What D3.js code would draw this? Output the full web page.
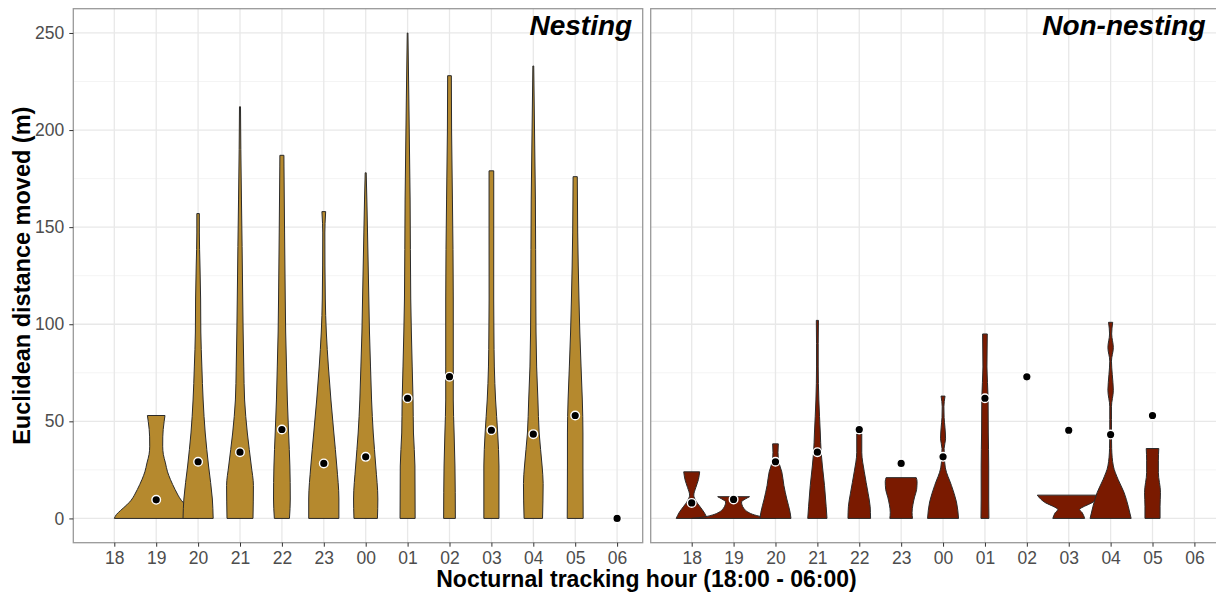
<!DOCTYPE html>
<html>
<head>
<meta charset="utf-8">
<script src="https://cdn.jsdelivr.net/npm/d3@7"></script>
<style>
  body { margin: 0; background: #fff; }
  text { font-family: "Liberation Sans", Arial, sans-serif; }
</style>
</head>
<body>
<svg id="chart" width="1216" height="593"></svg>
<script>
/* hours on the x axis */
const hours = ['18', '19', '20', '21', '22', '23', '00', '01', '02', '03', '04', '05', '06'];
const yTicks = [0, 50, 100, 150, 200, 250];
const yMinor = [25, 75, 125, 175, 225];

/* mean points per hour (null = no point) */
const nestMeans = [null, 9.6, 29.2, 34.1, 45.8, 28.3, 31.7, 61.9, 73, 45.4, 43.4, 53, 0];
const nonNestMeans = [8, 9.8, 29.2, 34.1, 45.8, 28.3, 31.7, 61.9, 72.9, 45.4, 43.2, 53, null];

/* violin outlines: [distance, half width in hour steps] */
const nestViolins = [
    null,
    [[0, 1.0], [2, 0.95], [4.1, 0.85], [7, 0.7], [9.3, 0.6], [12, 0.52], [14.9, 0.45], [20, 0.34], [24, 0.27], [28.6, 0.22], [33, 0.17], [37.2, 0.155], [42, 0.157], [45.8, 0.167], [50, 0.19], [53, 0.21]],
    [[0, 0.36], [10, 0.34], [27, 0.25], [44, 0.17], [61, 0.12], [78, 0.09], [96, 0.065], [113, 0.06], [130, 0.045], [147, 0.03], [157, 0.03]],
    [[0, 0.31], [17, 0.32], [27, 0.27], [44, 0.175], [61, 0.11], [78, 0.09], [96, 0.075], [113, 0.065], [140, 0.05], [164, 0.035], [190, 0.02], [212, 0.012]],
    [[0, 0.18], [10, 0.2], [27, 0.19], [44, 0.16], [61, 0.13], [78, 0.11], [96, 0.09], [113, 0.08], [147, 0.064], [181, 0.05], [187, 0.048]],
    [[0, 0.36], [10, 0.36], [27, 0.31], [44, 0.24], [61, 0.17], [78, 0.11], [96, 0.06], [113, 0.036], [147, 0.025], [152, 0.03], [158, 0.045]],
    [[0, 0.28], [10, 0.29], [27, 0.24], [44, 0.18], [61, 0.14], [78, 0.115], [96, 0.09], [113, 0.075], [147, 0.044], [164, 0.028], [178, 0.012]],
    [[0, 0.18], [27, 0.175], [44, 0.14], [61, 0.13], [78, 0.11], [96, 0.09], [113, 0.075], [164, 0.06], [216, 0.03], [250, 0.008]],
    [[0, 0.14], [27, 0.13], [44, 0.11], [61, 0.09], [78, 0.09], [96, 0.09], [113, 0.09], [164, 0.07], [199, 0.05], [228, 0.044]],
    [[0, 0.18], [27, 0.18], [44, 0.15], [61, 0.1], [78, 0.07], [96, 0.06], [113, 0.055], [147, 0.056], [179, 0.056]],
    [[0, 0.22], [18, 0.235], [27, 0.21], [44, 0.14], [61, 0.11], [78, 0.08], [96, 0.065], [113, 0.06], [164, 0.05], [199, 0.03], [233, 0.01]],
    [[0, 0.19], [27, 0.185], [44, 0.185], [61, 0.17], [78, 0.14], [96, 0.11], [113, 0.09], [147, 0.06], [176, 0.05]],
    null
];
const nonNestViolins = [
    [[0, 0.37], [3, 0.3], [6, 0.2], [9, 0.1], [12, 0.05], [16, 0.1], [20, 0.16], [24, 0.19]],
    [[0, 1.0], [0.8, 0.7], [1.8, 0.5], [3.3, 0.34], [5, 0.25], [7, 0.2], [8.5, 0.19], [10, 0.28], [11.2, 0.38]],
    [[0, 0.37], [3, 0.35], [10, 0.27], [17, 0.2], [24, 0.15], [29, 0.08], [34, 0.06], [38.4, 0.068]],
    [[0, 0.23], [6, 0.21], [17, 0.17], [27, 0.12], [34, 0.09], [44, 0.07], [61, 0.035], [78, 0.02], [90, 0.02], [102, 0.025]],
    [[0, 0.27], [6, 0.26], [13, 0.21], [24, 0.12], [34, 0.06], [43.5, 0.06]],
    [[0, 0.27], [3, 0.26], [7, 0.28], [11, 0.32], [15, 0.37], [19, 0.38], [21, 0.36]],
    [[0, 0.37], [8.5, 0.32], [17, 0.2], [26, 0.055], [32, 0.03], [36, 0.025], [41, 0.06], [47, 0.045], [52, 0.025], [57.5, 0.02], [63, 0.048]],
    [[0, 0.095], [10, 0.09], [27, 0.09], [44, 0.08], [62, 0.075], [78, 0.048], [95, 0.056]],
    null,
    [[0, 0.38], [3, 0.32], [4.6, 0.26], [6.3, 0.38], [8, 0.55], [9.8, 0.66], [12, 0.75]],
    [[0, 0.49], [6.3, 0.42], [13.4, 0.32], [20, 0.18], [27, 0.065], [36, 0.025], [43, 0.02], [51, 0.02], [57.5, 0.02], [66, 0.065], [74, 0.04], [81, 0.02], [88, 0.065], [95, 0.025], [101, 0.05]],
    [[0, 0.18], [6.3, 0.18], [13.4, 0.19], [23.7, 0.14], [30, 0.14], [36, 0.15]],
    null
];

/* panel boxes */
const plotTop = 8.7, plotBottom = 542.7;
const panels = [
    { title: 'Nesting', left: 73.3, right: 642.7, fill: '#b5892e', violins: nestViolins, means: nestMeans, yAxis: true },
    { title: 'Non-nesting', left: 650.7, right: 1220, fill: '#7a1a00', violins: nonNestViolins, means: nonNestMeans, yAxis: false }
];

let svg = d3.select('#chart');
let y = d3.scaleLinear().domain([-12.5, 262.5]).range([plotBottom, plotTop]);

panels.forEach(p => {
    let x = d3.scalePoint().domain(hours).range([p.left + 41, p.right - 25.6]);
    let step = x.step();
    let g = svg.append('g');

    /* grid */
    g.selectAll('.minor').data(yMinor).enter().append('line')
        .attr('x1', p.left).attr('x2', p.right)
        .attr('y1', d => y(d)).attr('y2', d => y(d))
        .attr('stroke', '#f0f0f0').attr('stroke-width', 0.8);
    g.selectAll('.major').data(yTicks).enter().append('line')
        .attr('x1', p.left).attr('x2', p.right)
        .attr('y1', d => y(d)).attr('y2', d => y(d))
        .attr('stroke', '#e8e8e8').attr('stroke-width', 1.3);
    g.selectAll('.vgrid').data(hours).enter().append('line')
        .attr('x1', d => x(d)).attr('x2', d => x(d))
        .attr('y1', plotTop).attr('y2', plotBottom)
        .attr('stroke', '#e8e8e8').attr('stroke-width', 1.3);

    /* violins */
    p.violins.forEach((prof, i) => {
        if (!prof) return;
        let cx = x(hours[i]);
        let pts = prof.slice().reverse();
        let area = d3.area()
            .y(d => y(d[0]))
            .x0(d => cx - d[1] * step)
            .x1(d => cx + d[1] * step)
            .curve(d3.curveMonotoneY);
        g.append('path')
            .attr('d', area(pts))
            .attr('fill', p.fill)
            .attr('stroke', '#2b2b2b')
            .attr('stroke-width', 1);
    });

    /* mean points */
    g.selectAll('.pt').data(p.means.map((m, i) => ({ h: hours[i], m })).filter(d => d.m !== null))
        .enter().append('circle')
        .attr('cx', d => x(d.h)).attr('cy', d => y(d.m))
        .attr('r', 4.3)
        .attr('fill', '#000')
        .attr('stroke', '#fff')
        .attr('stroke-width', 1.4);

    /* border */
    g.append('rect')
        .attr('x', p.left).attr('y', plotTop)
        .attr('width', p.right - p.left).attr('height', plotBottom - plotTop)
        .attr('fill', 'none').attr('stroke', '#999').attr('stroke-width', 1.3);

    /* x axis */
    let xAxis = g.append('g')
        .attr('transform', `translate(0, ${plotBottom})`)
        .call(d3.axisBottom(x).tickSize(4).tickPadding(5));
    xAxis.select('.domain').remove();
    xAxis.selectAll('line').attr('stroke', '#333');
    xAxis.selectAll('text').attr('fill', '#4d4d4d').style('font-size', '17.5px');

    if (p.yAxis) {
        let yAxis = g.append('g')
            .attr('transform', `translate(${p.left}, 0)`)
            .call(d3.axisLeft(y).tickValues(yTicks).tickSize(4).tickPadding(5));
        yAxis.select('.domain').remove();
        yAxis.selectAll('line').attr('stroke', '#333');
        yAxis.selectAll('text').attr('fill', '#4d4d4d').style('font-size', '17.5px');
    }

    /* panel title */
    g.append('text')
        .attr('x', Math.min(p.right, 1216) - 10.5)
        .attr('y', 35)
        .attr('text-anchor', 'end')
        .style('font-size', '28px')
        .style('font-weight', 'bold')
        .style('font-style', 'italic')
        .text(p.title);
});

/* axis titles */
svg.append('text')
    .attr('x', 646.5).attr('y', 587)
    .attr('text-anchor', 'middle')
    .style('font-size', '23px').style('font-weight', 'bold')
    .text('Nocturnal tracking hour (18:00 - 06:00)');

svg.append('text')
    .attr('transform', `translate(30, ${(plotTop + plotBottom) / 2}) rotate(-90)`)
    .attr('text-anchor', 'middle')
    .style('font-size', '23.5px').style('font-weight', 'bold')
    .text('Euclidean distance moved (m)');
</script>
</body>
</html>
